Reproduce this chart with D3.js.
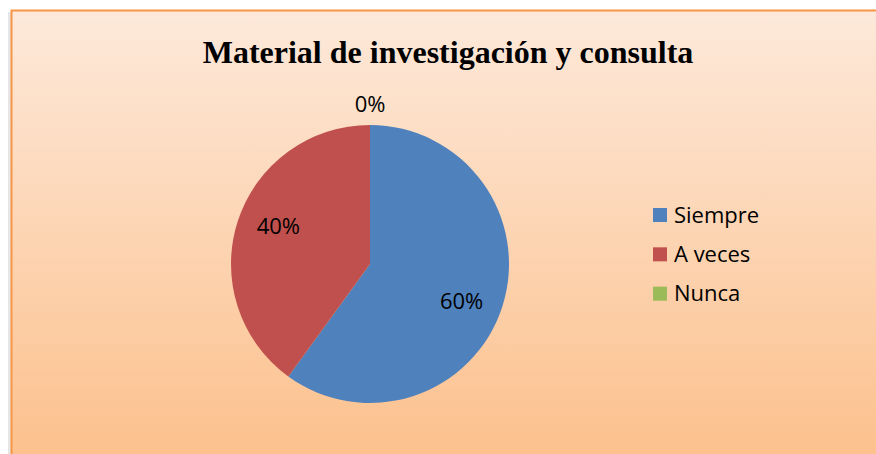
<!DOCTYPE html>
<html>
<head>
<meta charset="utf-8">
<script src="https://cdn.jsdelivr.net/npm/d3@7"></script>
<style>
	body { margin: 0; background: #fff; }
	svg { display: block; }
</style>
</head>
<body>
<div id="chart"></div>
<script>
const title = "Material de investigación y consulta";
const categories = ["Siempre", "A veces", "Nunca"];
const values = [60, 40, 0];
const colors = ["#4F81BD", "#C0504D", "#9BBB59"];

let width = 876;
let height = 454;
let cx = 370, cy = 264, radius = 139;

let svg = d3.select("#chart")
	.append("svg")
	.attr("width", width)
	.attr("height", height);

let defs = svg.append("defs");
let grad = defs.append("linearGradient")
	.attr("id", "bg")
	.attr("x1", 0).attr("y1", 0)
	.attr("x2", 0).attr("y2", 1);
grad.append("stop").attr("offset", "0%").attr("stop-color", "#FDE9DA");
grad.append("stop").attr("offset", "100%").attr("stop-color", "#FCBE88");

// faint shadow on the left edge
svg.append("rect")
	.attr("x", 8).attr("y", 12)
	.attr("width", 4).attr("height", height)
	.attr("fill", "#e6e6e6");

svg.append("rect")
	.attr("x", 11.5).attr("y", 10.5)
	.attr("width", width + 20).attr("height", height + 20)
	.attr("fill", "url(#bg)")
	.attr("stroke", "#F79646")
	.attr("stroke-width", 2);

svg.append("text")
	.attr("x", 448)
	.attr("y", 63)
	.attr("text-anchor", "middle")
	.attr("font-family", "'Liberation Serif', 'Times New Roman', serif")
	.attr("font-weight", "bold")
	.attr("font-size", 32)
	.text(title);

let data = categories.map((c, i) => ({ name: c, value: values[i], color: colors[i] }));

let pie = d3.pie()
	.value(d => d.value)
	.sort(null);

let arcs = pie(data);

let arc = d3.arc()
	.innerRadius(0)
	.outerRadius(radius);

let labelArc = d3.arc()
	.innerRadius(radius * 0.713)
	.outerRadius(radius * 0.713);

let outerArc = d3.arc()
	.innerRadius(radius + 21)
	.outerRadius(radius + 21);

// labels sit a little clockwise of the slice middle
let shift = 0.077;

let g = svg.append("g")
	.attr("transform", "translate(" + cx + "," + cy + ")");

g.selectAll("path")
	.data(arcs)
	.enter()
	.append("path")
	.attr("d", arc)
	.attr("fill", d => d.data.color);

g.selectAll(".lbl")
	.data(arcs)
	.enter()
	.append("text")
	.attr("class", "lbl")
	.attr("text-anchor", "middle")
	.attr("dy", ".35em")
	.attr("font-family", "'Open Sans', 'Noto Sans', sans-serif")
	.attr("font-size", 22)
	.attr("fill", "#000")
	.each(function (d) {
		let c = d.value > 0
			? labelArc.centroid({ startAngle: d.startAngle + shift, endAngle: d.endAngle + shift })
			: outerArc.centroid(d);
		d3.select(this)
			.attr("transform", "translate(" + c[0] + "," + c[1] + ")")
			.text(d.data.value + "%");
	});

let legend = svg.append("g")
	.attr("transform", "translate(653,208)");

let y = d3.scaleBand()
	.domain(categories)
	.range([0, 118]);

let items = legend.selectAll("g")
	.data(data)
	.enter()
	.append("g")
	.attr("transform", d => "translate(0," + y(d.name) + ")");

items.append("rect")
	.attr("width", 14)
	.attr("height", 14)
	.attr("fill", d => d.color);

items.append("text")
	.attr("x", 21)
	.attr("y", 7)
	.attr("dy", ".35em")
	.attr("font-family", "'Open Sans', 'Noto Sans', sans-serif")
	.attr("font-size", 22)
	.attr("fill", "#000")
	.text(d => d.name);
</script>
</body>
</html>
